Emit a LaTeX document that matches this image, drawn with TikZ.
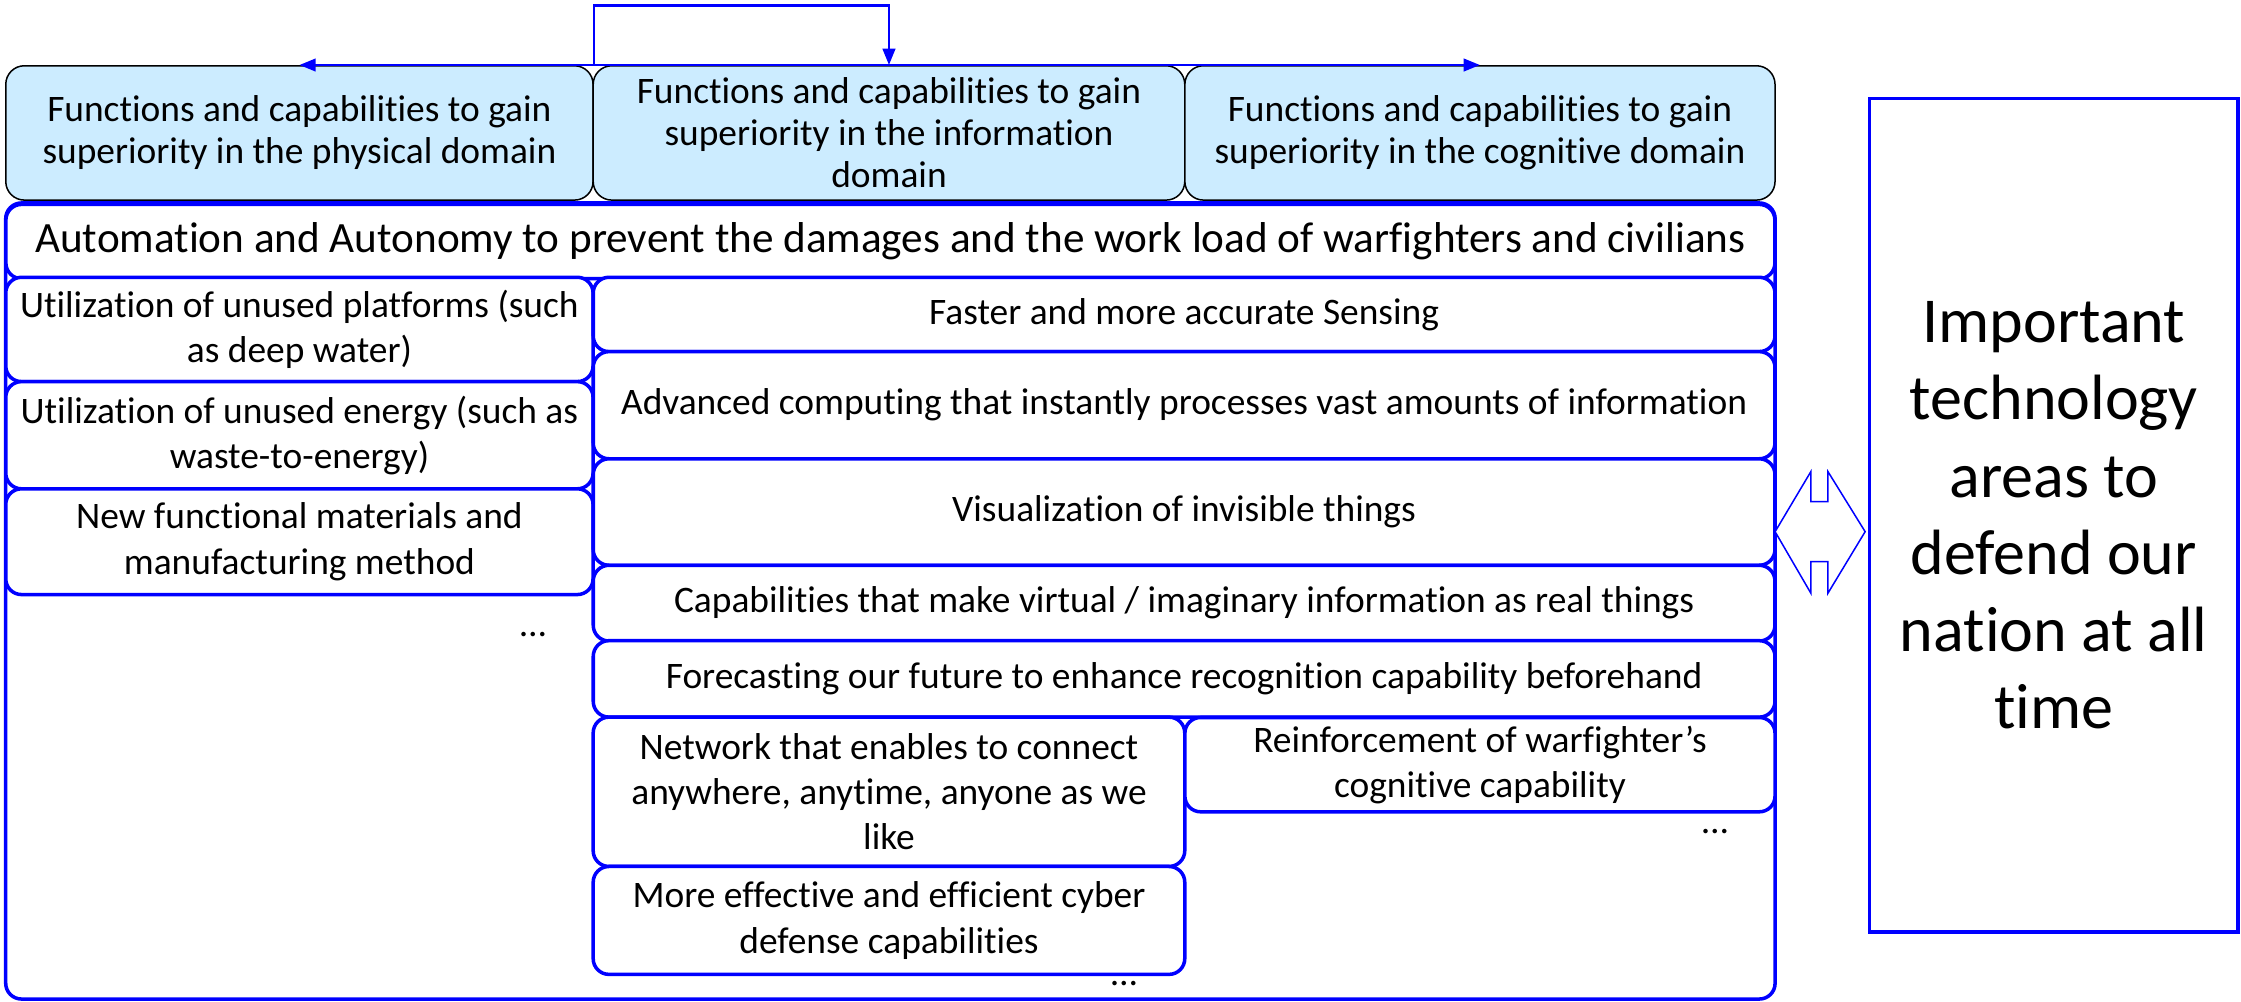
\documentclass[tikz,border=0pt]{standalone}
\usepackage{fontspec}
\setmainfont{Carlito}[Ligatures={NoCommon}, RawFeature={-calt}]
\usepackage{tikz}
\usetikzlibrary{arrows.meta, positioning}
\definecolor{paleblue}{RGB}{204,236,255}

\begin{document}
\begin{tikzpicture}[x=0.02cm, y=-0.02cm,
    topbox/.style={draw=black, line width=0.6pt, fill=paleblue, rounded corners=0.26cm, inner sep=0pt, align=center, font=\fontsize{14.9}{16.8}\selectfont},
    techbox/.style={draw=blue, line width=1.4pt, fill=white, rounded corners=0.22cm, inner sep=0pt, align=center, font=\fontsize{14.9}{18}\selectfont},
    link/.style={draw=blue, line width=1pt, -{Triangle[length=6.5pt,width=5pt]}},
    etc/.style={inner sep=0pt, font=\fontsize{14.9}{18}\selectfont}]

        \useasboundingbox (0,0) rectangle (1568,701);

        % Ba ô lĩnh vực phía trên
        \node[topbox, minimum width=8.22cm, minimum height=1.88cm] (phys) at (209.5,93) {Functions and capabilities to gain\\superiority in the physical domain}; % Vật lý
        \node[topbox, minimum width=8.28cm, minimum height=1.88cm] (info) at (622,93) {Functions and capabilities to gain\\superiority in the information\\domain}; % Thông tin
        \node[topbox, minimum width=8.26cm, minimum height=1.88cm] (cog) at (1035.5,93) {Functions and capabilities to gain\\superiority in the cognitive domain}; % Nhận thức

        % Mũi tên nối phía trên
        \coordinate (hub) at (415,4);
        \draw[link] (phys.north east) |- (hub -| info.north) -- (info.north);
        \draw[link] (phys.north east) -- (phys.north);
        \draw[link] (phys.north east) -- (cog.north);

        % Khung ngoài
        \draw[blue, line width=1.4pt, rounded corners=0.22cm] (4,142) rectangle (1242,699);

        \node[techbox, minimum width=24.76cm, minimum height=1.04cm, font=\fontsize{17.2}{20}\selectfont] (auto) at (623,169) {Automation and Autonomy to prevent the damages and the work load of warfighters and civilians};

        % Cột trái
        \node[techbox, minimum width=8.22cm, minimum height=1.46cm] (plat) at (209.5,230.5) {Utilization of unused platforms (such\\as deep water)};
        \node[techbox, minimum width=8.22cm, minimum height=1.5cm] (energy) at (209.5,304.5) {Utilization of unused energy (such as\\waste-to-energy)};
        \node[techbox, minimum width=8.22cm, minimum height=1.48cm] (mat) at (209.5,379) {New functional materials and\\manufacturing method};
        \node[etc] (dotsL) at (373,444) {\dots};

        % Cột giữa
        \node[techbox, minimum width=16.54cm, minimum height=1.04cm] (sense) at (828.5,220) {Faster and more accurate Sensing};
        \node[techbox, minimum width=16.54cm, minimum height=1.5cm] (comp) at (828.5,283.5) {Advanced computing that instantly processes vast amounts of information};
        \node[techbox, minimum width=16.54cm, minimum height=1.49cm] (vis) at (828.5,358.25) {Visualization of invisible things};
        \node[techbox, minimum width=16.54cm, minimum height=1.06cm] (virt) at (828.5,422) {Capabilities that make virtual / imaginary information as real things};
        \node[techbox, minimum width=16.54cm, minimum height=1.07cm] (fore) at (828.5,475) {Forecasting our future to enhance recognition capability beforehand};
        \node[techbox, minimum width=8.28cm, minimum height=2.09cm] (net) at (622,554) {Network that enables to connect\\anywhere, anytime, anyone as we\\like};
        \node[techbox, minimum width=8.28cm, minimum height=1.51cm] (cyber) at (622,644) {More effective and efficient cyber\\defense capabilities};
        \node[techbox, minimum width=8.26cm, minimum height=1.32cm] (reinf) at (1035.5,535) {Reinforcement of warfighter’s\\cognitive capability};
        \node[etc] (dotsR) at (1200,582) {\dots};
        \node[etc] (dotsM) at (786.5,688) {\dots};

        % Mũi tên hai chiều
        \draw[blue, line width=0.6pt, fill=white] (1242,372) -- (1267,330) -- (1267,351) -- (1279,351) -- (1279,330) -- (1305,372) -- (1279,415) -- (1279,393) -- (1267,393) -- (1267,415) -- cycle;

        % Ô bên phải
        \node[draw=blue, line width=1.4pt, minimum width=5.16cm, minimum height=11.66cm, inner sep=0pt, align=center, font=\fontsize{25.5}{30.7}\selectfont] (goal) at (1437,360.5) {Important\\technology\\areas to\\defend our\\nation at all\\time};

\end{tikzpicture}
\end{document}
